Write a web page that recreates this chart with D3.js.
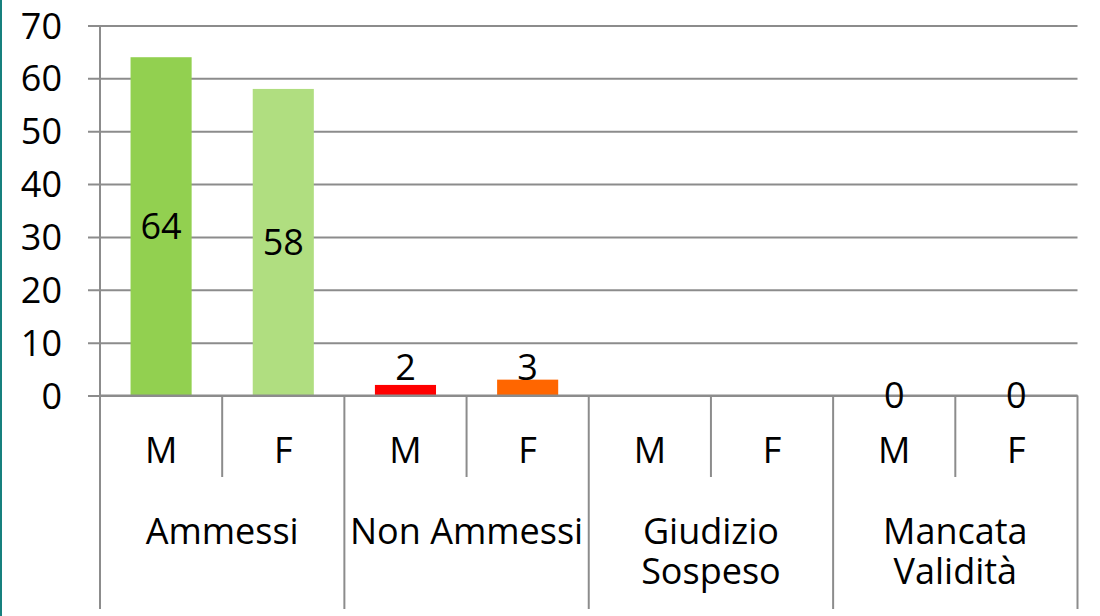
<!DOCTYPE html>
<html>
<head>
<meta charset="utf-8">
<script src="https://cdn.jsdelivr.net/npm/d3@7"></script>
<style>
  html, body { margin: 0; padding: 0; background: #fff; }
  svg { display: block; font-family: "Open Sans", "Noto Sans", sans-serif; }
</style>
</head>
<body>
<svg id="chart" width="1100" height="616"></svg>
<script>
// ---- data ----
const groups = ["Ammessi", "Non Ammessi", "Giudizio Sospeso", "Mancata Validità"];
const groupLabelLines = [["Ammessi"], ["Non Ammessi"], ["Giudizio", "Sospeso"], ["Mancata", "Validità"]];
const sexes = ["M", "F"];
const valuesM = [64, 2, null, 0];
const valuesF = [58, 3, null, 0];
const colorsM = ["#92D050", "#FF0000", "#92D050", "#92D050"];
const colorsF = ["#B0DE80", "#FF6600", "#B0DE80", "#B0DE80"];
const yTicks = [0, 10, 20, 30, 40, 50, 60, 70];

(function () {
// ---- layout ----
const W = 1100, H = 616;
const plotLeft = 100, plotRight = 1077.5, plotTop = 25.5, zeroY = 395.5;
const lineColor = "#8c8c8c";
const fontSize = 36;

const svg = d3.select("#chart");

// left teal border
svg.append("rect").attr("x", 0).attr("y", 0).attr("width", 2).attr("height", H).attr("fill", "#17807e");

const x0 = d3.scaleBand().domain(groups).range([plotLeft, plotRight]).padding(0);
const x1 = d3.scaleBand().domain(sexes).range([0, x0.bandwidth()]).padding(0);
const y = d3.scaleLinear().domain([0, 70]).range([zeroY, plotTop]);

// gridlines and y ticks
const yAxis = d3.axisLeft(y).tickValues(yTicks).tickSize(-(plotRight - plotLeft)).tickSizeOuter(0).tickPadding(0).tickFormat(d3.format("d"));
const gy = svg.append("g").attr("transform", `translate(${plotLeft},0)`).call(yAxis);
gy.select(".domain").remove();
gy.selectAll(".tick line").attr("stroke", lineColor).attr("stroke-width", 2).attr("x1", -12);
gy.selectAll(".tick text")
  .attr("x", -38).attr("dy", "0.35em")
  .attr("fill", "#000").attr("font-size", fontSize).attr("font-family", '"Open Sans", sans-serif')
  .attr("text-anchor", "end");

// flat data
const bars = [];
groups.forEach((g, i) => {
  bars.push({ g, s: "M", v: valuesM[i], c: colorsM[i] });
  bars.push({ g, s: "F", v: valuesF[i], c: colorsF[i] });
});

const barW = x1.bandwidth() * 0.5;
const bx = d => x0(d.g) + x1(d.s) + (x1.bandwidth() - barW) / 2;

svg.append("g").selectAll("rect").data(bars.filter(d => d.v !== null && d.v > 0)).join("rect")
  .attr("x", bx).attr("width", barW)
  .attr("y", d => y(d.v)).attr("height", d => y(0) - y(d.v))
  .attr("fill", d => d.c);

// axis lines
svg.append("line").attr("x1", plotLeft).attr("x2", plotLeft).attr("y1", plotTop).attr("y2", 609)
  .attr("stroke", lineColor).attr("stroke-width", 2);
svg.append("line").attr("x1", plotLeft).attr("x2", plotRight).attr("y1", zeroY).attr("y2", zeroY)
  .attr("stroke", lineColor).attr("stroke-width", 2);

// category separators
groups.forEach((g, i) => {
  const gx = x0(g);
  svg.append("line").attr("x1", gx + x1("F")).attr("x2", gx + x1("F")).attr("y1", zeroY).attr("y2", 477)
    .attr("stroke", lineColor).attr("stroke-width", 2);
  svg.append("line").attr("x1", gx + x0.bandwidth()).attr("x2", gx + x0.bandwidth()).attr("y1", zeroY).attr("y2", 609)
    .attr("stroke", lineColor).attr("stroke-width", 2);
});

// sex labels
svg.append("g").selectAll("text").data(bars).join("text")
  .attr("x", d => x0(d.g) + x1(d.s) + x1.bandwidth() / 2)
  .attr("y", 463)
  .attr("text-anchor", "middle").attr("font-size", fontSize).attr("fill", "#000")
  .text(d => d.s);

// group labels
groups.forEach((g, i) => {
  const cx = x0(g) + x0.bandwidth() / 2;
  const t = svg.append("text")
    .attr("x", cx).attr("y", 544)
    .attr("text-anchor", "middle").attr("font-size", fontSize).attr("fill", "#000");
  groupLabelLines[i].forEach((ln, j) => {
    t.append("tspan").attr("x", cx).attr("dy", j === 0 ? 0 : 40).text(ln);
  });
});

// data labels
svg.append("g").selectAll("text").data(bars.filter(d => d.v !== null)).join("text")
  .attr("x", d => bx(d) + barW / 2)
  .attr("y", d => {
    const h = y(0) - y(d.v);
    if (d.v === 0) return y(0);
    if (h < 40) return y(0) - 28;
    return y(d.v) + h / 2;
  })
  .attr("dy", "0.35em")
  .attr("text-anchor", "middle").attr("font-size", fontSize).attr("fill", "#000")
  .text(d => d.v);
})();
</script>
</body>
</html>
